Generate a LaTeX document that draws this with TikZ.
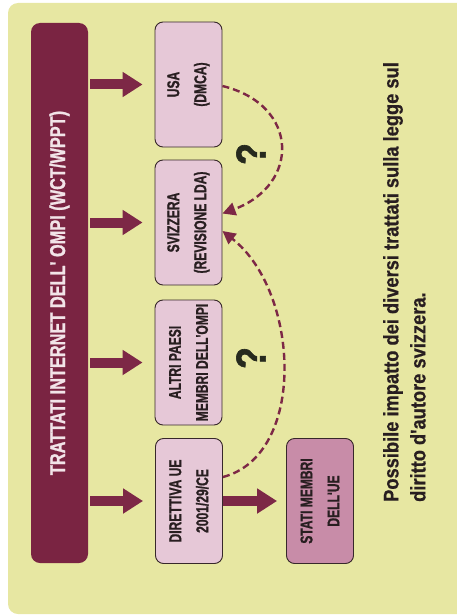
\documentclass[tikz,border=0pt]{standalone}
\usepackage{fontspec}
\setmainfont{Liberation Sans}
\newfontfamily\titf[FakeStretch=0.76,FakeBold=1]{Liberation Sans}
\newfontfamily\condf[FakeStretch=0.71,FakeBold=1]{Liberation Sans}
\newfontfamily\qf[FakeStretch=0.85,FakeBold=1.5]{Liberation Sans}
\newfontfamily\footf[FakeStretch=0.87,FakeBold=0.6]{Liberation Sans}
\usetikzlibrary{arrows.meta}
\definecolor{bgc}{RGB}{231,231,162}
\definecolor{maroon}{RGB}{122,36,66}
\definecolor{arrc}{RGB}{125,40,70}
\definecolor{boxc}{RGB}{230,200,215}
\definecolor{boxd}{RGB}{200,140,168}
\definecolor{edgec}{RGB}{55,40,42}
\definecolor{txtc}{RGB}{40,30,32}
\definecolor{titc}{RGB}{242,228,232}
\definecolor{qc}{RGB}{38,42,30}
\tikzset{
  barbox/.style={fill=maroon, rounded corners=9pt, minimum width=57pt, minimum height=540pt, inner sep=0pt},
  titletext/.style={rotate=90, text=titc, font=\titf\bfseries\fontsize{21.5}{24}\selectfont, inner sep=0pt},
  statebox/.style={draw=edgec, line width=0.9pt, fill=boxc, rounded corners=8pt, minimum width=67pt, minimum height=125pt, inner sep=0pt},
  boxtext/.style={rotate=90, text=txtc, align=center, font=\condf\bfseries\fontsize{17}{27}\selectfont, inner sep=0pt},
  fatarrow/.style={draw=arrc, line width=10pt, -{Triangle[length=20pt,width=24pt]}},
  dasharrow/.style={draw=arrc, line width=2.4pt, dash pattern=on 7pt off 4pt, -{Triangle[length=13pt,width=13pt]}},
  qmark/.style={rotate=90, text=qc, font=\qf\bfseries\fontsize{42}{46}\selectfont, inner sep=0pt},
  foottext/.style={rotate=90, text=txtc, align=left, font=\footf\bfseries\fontsize{21}{27}\selectfont, inner sep=0pt}
}
\begin{document}
\begin{tikzpicture}[x=1pt,y=-1pt]
\useasboundingbox (0,0) rectangle (457,615);
\fill[bgc, rounded corners=10pt] (8,3) rectangle (472,614);
\node[barbox] (bar) at (59.5,293) {};
\node[titletext] (title) at (bar.center) {TRATTATI INTERNET DELL' OMPI (WCT/WPPT)};
\node[statebox] (usa) at (188.5,84.5) {};
\node[statebox] (sviz) at (188.5,222.5) {};
\node[statebox] (altri) at (188.5,362.5) {};
\node[statebox] (dir) at (189,501) {};
\node[statebox, fill=boxd] (stati) at (320,501) {};
\node[boxtext] (usat) at (usa.center) {USA\\(DMCA)};
\node[boxtext] (svizt) at (sviz.center) {SVIZZERA\\(REVISIONE LDA)};
\node[boxtext] (altrit) at (altri.center) {ALTRI PAESI\\MEMBRI DELL'OMPI};
\node[boxtext] (dirt) at (dir.center) {DIRETTIVA UE\\2001/29/CE};
\node[boxtext] (statit) at (stati.center) {STATI MEMBRI\\DELL'UE};
\foreach \b in {usa,sviz,altri,dir}{
  \draw[fatarrow, shorten <=2pt, shorten >=12pt] (bar.east |- \b.west) -- (\b.west);
}
\draw[fatarrow, shorten >=9pt] (dir.east) -- (stati.west);
\draw[dasharrow] ([yshift=-1.5pt]usa.east) .. controls (300,105) and (300,185) .. ([yshift=9pt]sviz.east);
\draw[dasharrow] ([yshift=24pt]dir.east) .. controls (307,455) and (300,292) .. ([yshift=-8.5pt]sviz.east);
\node[qmark] (q1) at (251,154) {?};
\node[qmark] (q2) at (251,358) {?};
\node[foottext, anchor=north west] (foot) at (383,502) {Possibile impatto dei diversi trattati sulla legge sul\\diritto d'autore svizzera.};
\end{tikzpicture}
\end{document}
